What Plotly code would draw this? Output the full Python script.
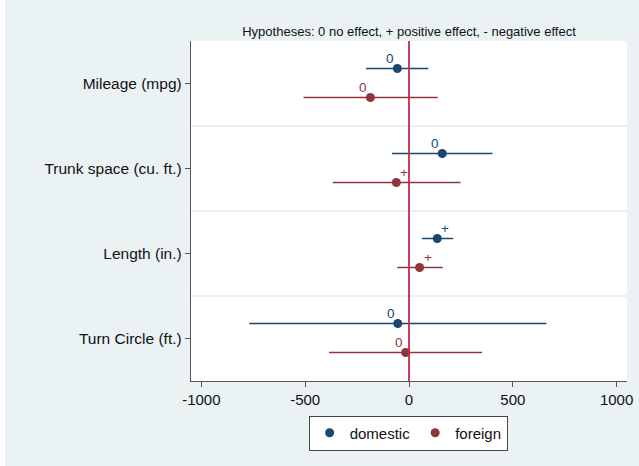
import plotly.graph_objects as go

categories = ["Mileage (mpg)", "Trunk space (cu. ft.)", "Length (in.)", "Turn Circle (ft.)"]

dom_est = [-56, 160, 136, -54]
dom_lo = [-207, -82, 62, -769]
dom_hi = [93, 402, 213, 662]
dom_hyp = ["0", "0", "+", "0"]

for_est = [-186, -61, 51, -16]
for_lo = [-508, -367, -56, -385]
for_hi = [138, 248, 162, 352]
for_hyp = ["0", "+", "+", "0"]

x_ticks = [-1000, -500, 0, 500, 1000]

DOM_COLOR = "#1a476f"
FOR_COLOR = "#90353b"
BG = "#eaf2f3"
FONT = "Liberation Sans, Arial, sans-serif"

cat_pos = [i + 1 for i in range(len(categories))]
off_dom = -0.176
off_for = 0.165

fig = go.Figure()

series = [
    ("domestic", dom_est, dom_lo, dom_hi, dom_hyp, DOM_COLOR, off_dom),
    ("foreign", for_est, for_lo, for_hi, for_hyp, FOR_COLOR, off_for),
]

annotations = []
for name, est, lo, hi, hyp, col, off in series:
    ys = [p + off for p in cat_pos]
    fig.add_trace(go.Scatter(
        x=est, y=ys, mode="markers", name=name,
        marker=dict(color=col, size=9),
        error_x=dict(type="data", symmetric=False,
                     array=[h - e for h, e in zip(hi, est)],
                     arrayminus=[e - l for e, l in zip(est, lo)],
                     color=col, thickness=1.5, width=0),
    ))
    for xv, yv, lab in zip(est, ys, hyp):
        annotations.append(dict(
            x=xv, y=yv, xref="x", yref="y", text=lab, showarrow=False,
            xanchor="center", yanchor="middle",
            xshift=-7 if lab == "0" else 8, yshift=10,
            font=dict(color=col, size=13.5, family=FONT)))

shapes = []
# band separators
for k in range(len(categories) - 1):
    shapes.append(dict(type="line", xref="paper", x0=0, x1=1, yref="y",
                       y0=cat_pos[k] + 0.5, y1=cat_pos[k] + 0.5,
                       line=dict(color="#e3ebeb", width=1.5), layer="below"))
# zero reference line
shapes.append(dict(type="line", xref="x", x0=0, x1=0, yref="paper", y0=0, y1=1,
                   line=dict(color="#c42b4b", width=1.8), layer="above"))
# white outer strips (top and left)
W, H = 639, 466
L, R, T, B = 191, 12, 41, 85
pw, ph = W - L - R, H - T - B
shapes.append(dict(type="rect", xref="paper", yref="paper",
                   x0=-L / pw, x1=(W - L) / pw, y0=(H - T) / ph, y1=(H - T - 6) / ph,
                   fillcolor="white", line=dict(width=0), layer="below"))
shapes.append(dict(type="rect", xref="paper", yref="paper",
                   x0=-L / pw, x1=(5 - L) / pw, y0=-B / ph, y1=(H - T) / ph,
                   fillcolor="white", line=dict(width=0), layer="below"))

fig.update_layout(
    width=W, height=H, autosize=False,
    margin=dict(l=L, r=R, t=T, b=B, pad=0, autoexpand=False),
    paper_bgcolor=BG, plot_bgcolor="white",
    font=dict(family=FONT, size=15, color="#111"),
    showlegend=True,
    legend=dict(orientation="h", x=0.498, y=-0.153, xanchor="center", yanchor="middle",
                bgcolor="white", bordercolor="#444", borderwidth=1,
                font=dict(size=15, family=FONT), itemwidth=30),
    title=dict(text="Hypotheses: 0 no effect, + positive effect, - negative effect",
               x=(L + pw / 2) / W, xanchor="center", y=1 - 31 / H, yanchor="middle",
               font=dict(size=13, family=FONT, color="#111")),
    shapes=shapes,
    annotations=annotations,
)
fig.update_xaxes(range=[-1050, 1050], tickvals=x_ticks, ticktext=[str(v) for v in x_ticks],
                 automargin=False,
                 showgrid=False, zeroline=False, showline=True, linecolor="#555", linewidth=1.2,
                 ticks="outside", ticklen=5, tickcolor="#555", tickfont=dict(size=15))
fig.update_yaxes(range=[4.5, 0.5], tickvals=cat_pos, ticktext=categories,
                 automargin=False,
                 showgrid=False, zeroline=False, showline=True, linecolor="#555", linewidth=1.2,
                 ticks="outside", ticklen=5, tickcolor="#555", tickfont=dict(size=15.5))

fig.write_html("out.html",
               config={"displayModeBar": False, "responsive": False, "staticPlot": True},
               post_script="document.body.style.margin='0';document.body.style.overflow='hidden';")
